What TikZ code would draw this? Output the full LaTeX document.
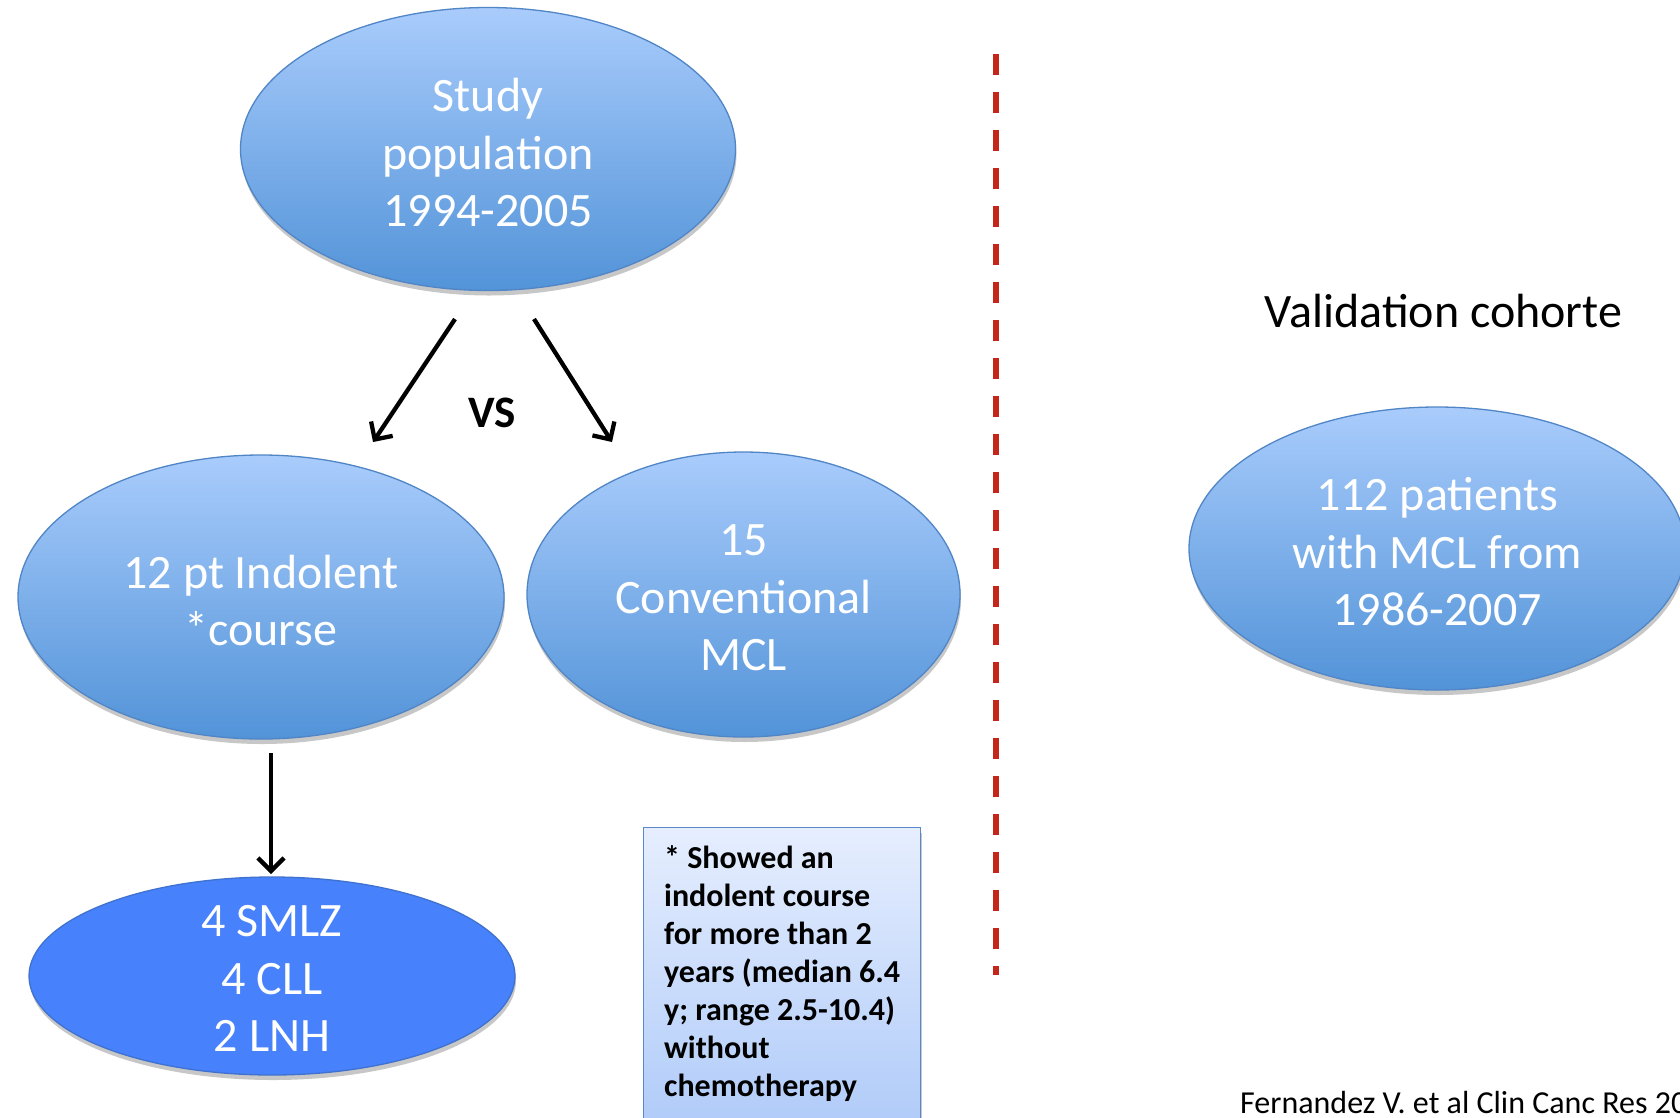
\documentclass[tikz,border=0pt]{standalone}
\usepackage{fontspec}
\setmainfont{Carlito}
\usetikzlibrary{shapes.geometric,arrows.meta,shadows}
\definecolor{ellTop}{HTML}{A9CCFC}
\definecolor{ellBot}{HTML}{5293D8}
\definecolor{ellLine}{HTML}{5085C6}
\definecolor{solidBlue}{HTML}{4781FC}
\definecolor{solidLine}{HTML}{3F72CF}
\definecolor{noteTop}{HTML}{E6EEFE}
\definecolor{noteBot}{HTML}{B1CCF9}
\definecolor{noteLine}{HTML}{5B88C8}
\definecolor{sepRed}{HTML}{C4261A}
\tikzset{
  bigtext/.style={font=\fontsize{48}{57.5}\selectfont},
  ltxt/.style={text=white, align=center, bigtext, yshift=-3.5pt},
  shad/.style={drop shadow={shadow xshift=1pt, shadow yshift=-5pt, fill=black, opacity=0.22}},
  ell/.style={ellipse, draw=ellLine, line width=1.3pt, top color=ellTop, bottom color=ellBot,
    shad, inner sep=0pt},
  ellsolid/.style={ellipse, draw=solidLine, line width=1.3pt, fill=solidBlue,
    shad, inner sep=0pt},
  arr/.style={line width=4.3pt, -{Straight Barb[length=13pt,width=26pt,line width=4.3pt]},
    drop shadow={shadow xshift=1pt, shadow yshift=-3pt, opacity=0.2}},
  note/.style={rectangle, draw=noteLine, line width=1.3pt, top color=noteTop, bottom color=noteBot,
    shad, align=left, font=\fontsize{32}{38}\selectfont\bfseries, inner sep=0pt},
  sep/.style={draw=sepRed, line width=5.8pt, dash pattern=on 21pt off 17pt}
}
\begin{document}
\begin{tikzpicture}[x=1pt,y=-1pt]
\useasboundingbox (0,0) rectangle (1680,1117);
\fill[white] (0,0) rectangle (1680,1117);
\clip (0,0) rectangle (1680,1117);

% separator
\coordinate (s1) at (996,54);
\coordinate (s2) at (996,975);
\draw[sep] (s1) -- (s2);

% ellipses
\node[ell, minimum width=495pt, minimum height=283pt,
  label={[ltxt]center:Study\\population\\1994-2005}] (pop) at (488,149) {};
\node[ell, minimum width=486pt, minimum height=284pt,
  label={[ltxt]center:12 pt Indolent\\*course}] (ind) at (261,597) {};
\node[ell, minimum width=433pt, minimum height=285pt,
  label={[ltxt]center:15\\Conventional\\MCL}] (conv) at (743.5,594.5) {};
\node[ellsolid, minimum width=486pt, minimum height=198pt,
  label={[ltxt, yshift=1pt]center:4 SMLZ\\4 CLL\\2 LNH}] (sub) at (272,976) {};
\node[ell, minimum width=496pt, minimum height=283pt,
  label={[ltxt]center:112 patients\\with MCL from\\1986-2007}] (val) at (1437,548.5) {};

% arrows
\coordinate (a1s) at (455,319);
\coordinate (a1e) at (373,442);
\coordinate (a2s) at (534,319);
\coordinate (a2e) at (612,442);
\coordinate (a3s) at (271,753);
\coordinate (a3e) at (271,874);
\draw[arr] (a1s) -- (a1e);
\draw[arr] (a2s) -- (a2e);
\draw[arr] (a3s) -- (a3e);

\node[anchor=base, font=\fontsize{45}{50}\selectfont\bfseries] (vs) at (492,427) {VS};

\node[anchor=base, bigtext] (vc) at (1443.5,327) {Validation cohorte};

\node[note, anchor=north west, minimum width=277pt, minimum height=292pt] (nt) at (643,827)
  {* Showed an\\indolent course\\for more than 2\\years (median 6.4\\y; range 2.5-10.4)\\without\\chemotherapy};

\node[anchor=base west, inner sep=0pt, font=\fontsize{32}{38}\selectfont] (cite) at (1240,1113)
  {Fernandez V. et al Clin Canc Res 20};
\end{tikzpicture}
\end{document}
